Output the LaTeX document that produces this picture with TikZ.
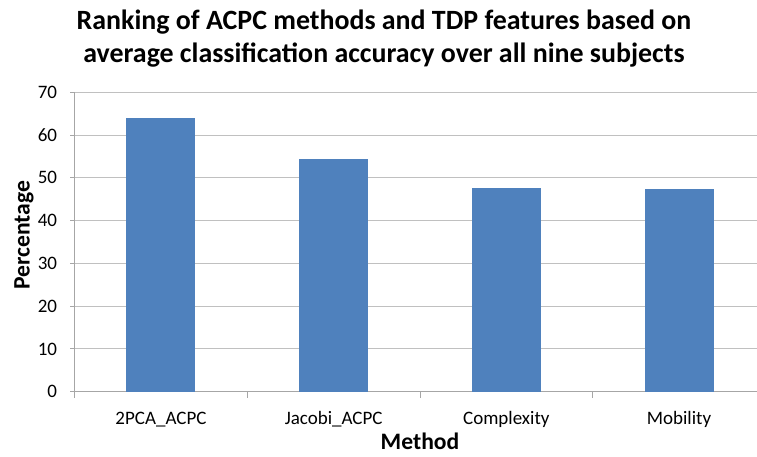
\documentclass[tikz,border=0pt]{standalone}
\usepackage{fontspec}
\setmainfont{Carlito}
\definecolor{barblue}{HTML}{4F81BD}
\definecolor{gridgray}{HTML}{C0C0C0}
\definecolor{axisgray}{HTML}{A6A6A6}

\begin{document}
\begin{tikzpicture}[x=1pt,y=1pt,line width=1pt]
  \useasboundingbox (0,0) rectangle (757,456);

  \tikzset{
    ticklabel/.style={inner sep=0,font=\fontsize{19}{22}\selectfont},
    axistitle/.style={inner sep=0,font=\bfseries\fontsize{23.6}{28}\selectfont},
    titleline/.style={inner sep=0,anchor=base,font=\bfseries\fontsize{27.9}{33}\selectfont}
  }

  % Title
  \node[titleline] (title1) at (384,426) {Ranking of ACPC methods and TDP features based on};
  \node[titleline] (title2) at (384,393) {average classification accuracy over all nine subjects};

  % Plot area: one unit per category in x, per percent in y
  \def\catw{172.7}\def\ymax{70}
  \begin{scope}[shift={(74.6,64.3)},x=\catw pt,y=4.277pt]

    % Grid and axes
    \foreach \v in {10,20,...,\ymax}
      \draw[gridgray] (0,\v) -- (4,\v);
    \draw[axisgray] (0,\ymax) -- (0,0) -- (4,0);
    \foreach \v in {0,10,...,\ymax}{%
      \draw[axisgray] (0,\v) -- ++(-5pt,0);
      \node[ticklabel,anchor=east] (ylab\v) at ([xshift=-17pt]0,\v) {\v};}
    \foreach \c in {0,...,4}
      \draw[axisgray] (\c,0) -- ++(0,-6pt);

    % Bars
    \foreach \c/\v/\lab [count=\n] in {1/64.1/2PCA\_ACPC,2/54.3/Jacobi\_ACPC,3/47.6/Complexity,4/47.4/Mobility}{%
      \fill[barblue] (\c-0.7,0) rectangle (\c-0.3,\v);
      \node[ticklabel,anchor=base] (xlab\n) at ([yshift=-32.3pt]\c-0.5,0) {\lab};}

  \end{scope}

  % Axis titles
  \node[axistitle,rotate=90] (ytitle) at (24,221) {Percentage};
  \node[axistitle,anchor=base] (xtitle) at (420,7) {Method};

\end{tikzpicture}
\end{document}
